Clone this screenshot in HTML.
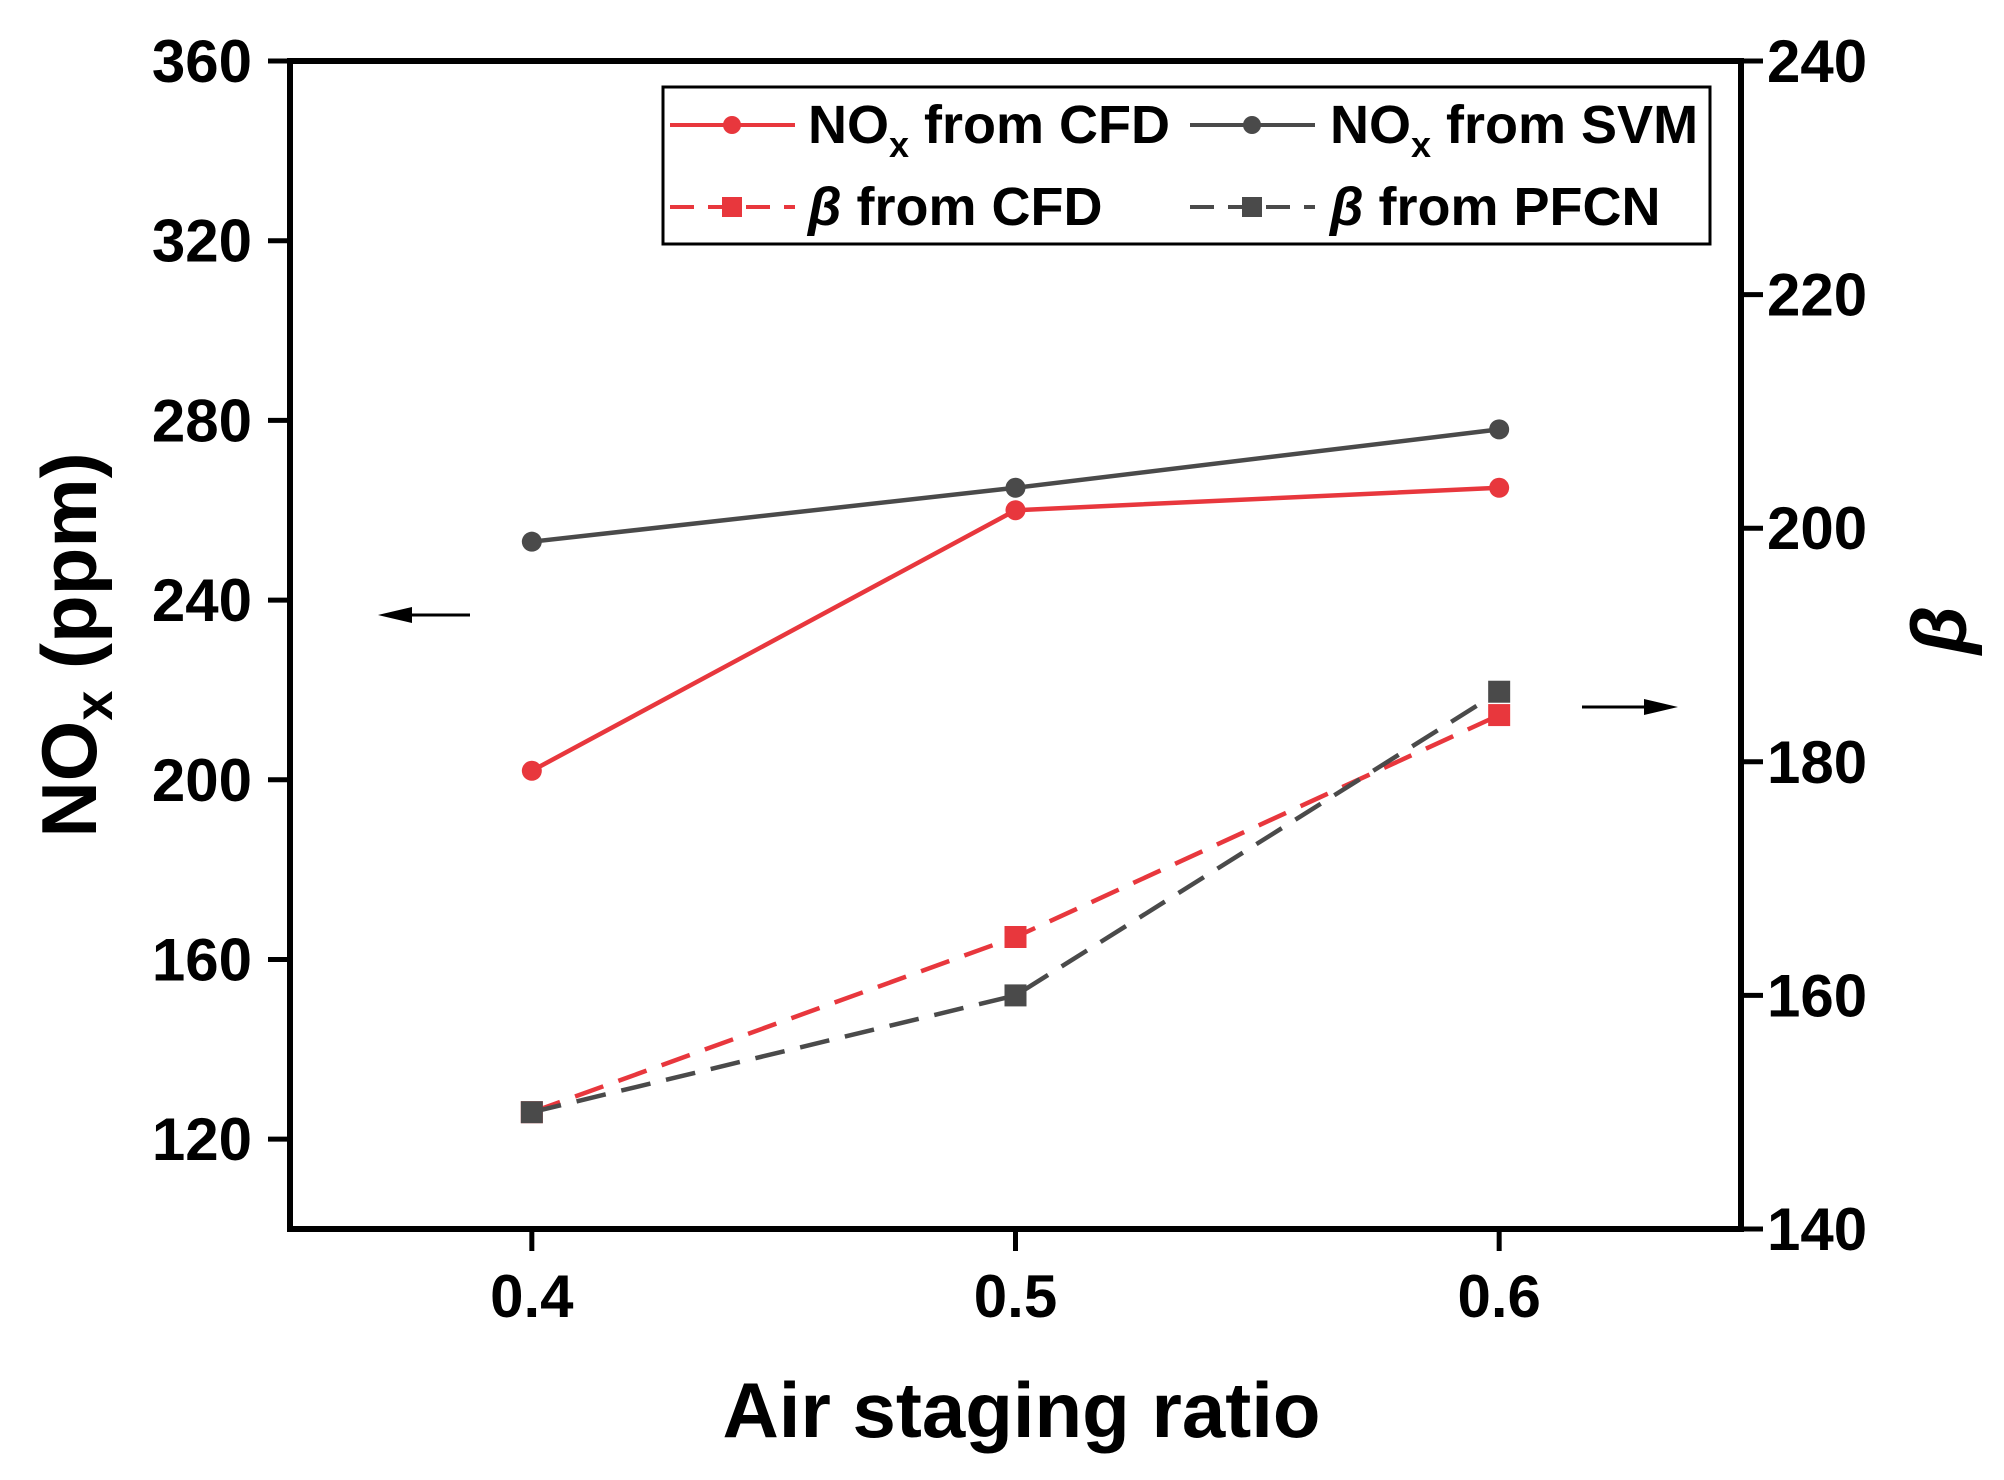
<!DOCTYPE html>
<html><head><meta charset="utf-8"><style>
html,body{margin:0;padding:0;background:#fff;}
svg{display:block;font-family:"Liberation Sans",Arial,sans-serif;font-weight:bold;}
</style></head><body>
<svg id="chart" width="2004" height="1480" viewBox="0 0 2004 1480" xmlns="http://www.w3.org/2000/svg">
<g id="axes"></g>
<g id="series"></g>
<g id="legend">
  <rect x="663" y="87" width="1047" height="157" fill="#fff" stroke="#000" stroke-width="3"/>
  <g>
    <line x1="670" y1="125" x2="795" y2="125" stroke="#e8373d" stroke-width="4"/>
    <circle cx="732" cy="125" r="9" fill="#e8373d"/>
    <text x="808" y="143" font-size="54">NO<tspan font-size="36" dy="14">x</tspan><tspan dy="-14"> from CFD</tspan></text>
  </g>
  <g>
    <line x1="1190" y1="125" x2="1315" y2="125" stroke="#4a4a4a" stroke-width="4"/>
    <circle cx="1252" cy="125" r="9" fill="#4a4a4a"/>
    <text x="1330" y="143" font-size="54">NO<tspan font-size="36" dy="14">x</tspan><tspan dy="-14"> from SVM</tspan></text>
  </g>
  <g>
    <line x1="670" y1="207" x2="795" y2="207" stroke="#e8373d" stroke-width="4" stroke-dasharray="24,14"/>
    <rect x="722" y="197" width="20" height="20" fill="#e8373d"/>
    <text x="808" y="225" font-size="54"><tspan font-style="italic">β</tspan> from CFD</text>
  </g>
  <g>
    <line x1="1190" y1="207" x2="1315" y2="207" stroke="#4a4a4a" stroke-width="4" stroke-dasharray="24,14"/>
    <rect x="1242" y="197" width="20" height="20" fill="#4a4a4a"/>
    <text x="1330" y="225" font-size="54"><tspan font-style="italic">β</tspan> from PFCN</text>
  </g>
</g>
</svg>
<script>
const categories=[0.4,0.5,0.6];
const noxCFD=[202,260,265];
const noxSVM=[253,265,278];
const betaCFD=[150,165,184];
const betaPFCN=[150,160,186];
const xTicks=[0.4,0.5,0.6];
const yLeftTicks=[120,160,200,240,280,320,360];
const yRightTicks=[140,160,180,200,220,240];

const L=290,R=1741,T=61,B=1229;
const NS="http://www.w3.org/2000/svg";
function xs(v){return L+(v-0.35)/0.3*(R-L);}
function yl(v){return B-(v-100)/260*(B-T);}
function yr(v){return B-(v-140)/100*(B-T);}
function mk(tag,attrs,parent,txt){const e=document.createElementNS(NS,tag);for(const k in attrs)e.setAttribute(k,attrs[k]);if(txt!==undefined)e.textContent=txt;parent.appendChild(e);return e;}
const ax=document.getElementById('axes');
let f=mk('rect',{x:L,y:T,width:R-L,height:B-T,fill:'none',stroke:'#000','stroke-width':6},ax);


xTicks.forEach(v=>{
  let t=mk('line',{x1:xs(v),x2:xs(v),y1:B,y2:B+22,stroke:'#000','stroke-width':5},ax);
  
  
  let l=mk('text',{x:xs(v),y:B+88,'font-size':60,'text-anchor':'middle'},ax,v.toFixed(1));
  
  
});
yLeftTicks.forEach(v=>{
  let t=mk('line',{x1:L-22,x2:L,y1:yl(v),y2:yl(v),stroke:'#000','stroke-width':5},ax);
  
  
  let l=mk('text',{x:L-38,y:yl(v)+21,'font-size':60,'text-anchor':'end'},ax,String(v));
  
  
});
yRightTicks.forEach(v=>{
  let t=mk('line',{x1:R,x2:R+22,y1:yr(v),y2:yr(v),stroke:'#000','stroke-width':5},ax);
  
  
  let l=mk('text',{x:R+26,y:yr(v)+21,'font-size':60,'text-anchor':'start'},ax,String(v));
  
  
});
let xt=mk('text',{x:(L+R)/2+6,y:1437,'font-size':78,'text-anchor':'middle'},ax,'Air staging ratio');


let yt=mk('text',{x:0,y:0,'font-size':78,'text-anchor':'middle',transform:'translate(96,645) rotate(-90)'},ax);


mk('tspan',{},yt,'NO');mk('tspan',{'font-size':54,dy:16},yt,'x');mk('tspan',{dy:-16},yt,' (ppm)');
let yt2=mk('text',{x:0,y:0,'font-size':78,'font-style':'italic','text-anchor':'middle',transform:'translate(1966,630) rotate(-90)'},ax,'β');


let a1=mk('g',{},ax);


mk('line',{x1:395,x2:470,y1:615,y2:615,stroke:'#000','stroke-width':3},a1);
mk('polygon',{points:'378,615 412,607 412,623',fill:'#000'},a1);
let a2=mk('g',{},ax);


mk('line',{x1:1582,x2:1660,y1:707,y2:707,stroke:'#000','stroke-width':3},a2);
mk('polygon',{points:'1678,707 1644,699 1644,715',fill:'#000'},a2);

const sg=document.getElementById('series');
function series(name,vals,yf,color,dash,marker){
  const g=mk('g',{},sg);
  
  
  const pts=vals.map((v,i)=>xs(categories[i])+','+yf(v)).join(' ');
  const a={points:pts,fill:'none',stroke:color,'stroke-width':4.5};
  if(dash)a['stroke-dasharray']='30,16';
  mk('polyline',a,g);
  vals.forEach((v,i)=>{
    let m;
    if(marker==='circle')m=mk('circle',{cx:xs(categories[i]),cy:yf(v),r:10,fill:color},g);
    else m=mk('rect',{x:xs(categories[i])-11,y:yf(v)-11,width:22,height:22,fill:color},g);
    
    
  });
}
series('series-beta-cfd',betaCFD,yr,'#e8373d',true,'square');
series('series-beta-pfcn',betaPFCN,yr,'#4a4a4a',true,'square');
series('series-nox-svm',noxSVM,yl,'#4a4a4a',false,'circle');
series('series-nox-cfd',noxCFD,yl,'#e8373d',false,'circle');
</script>
</body></html>
